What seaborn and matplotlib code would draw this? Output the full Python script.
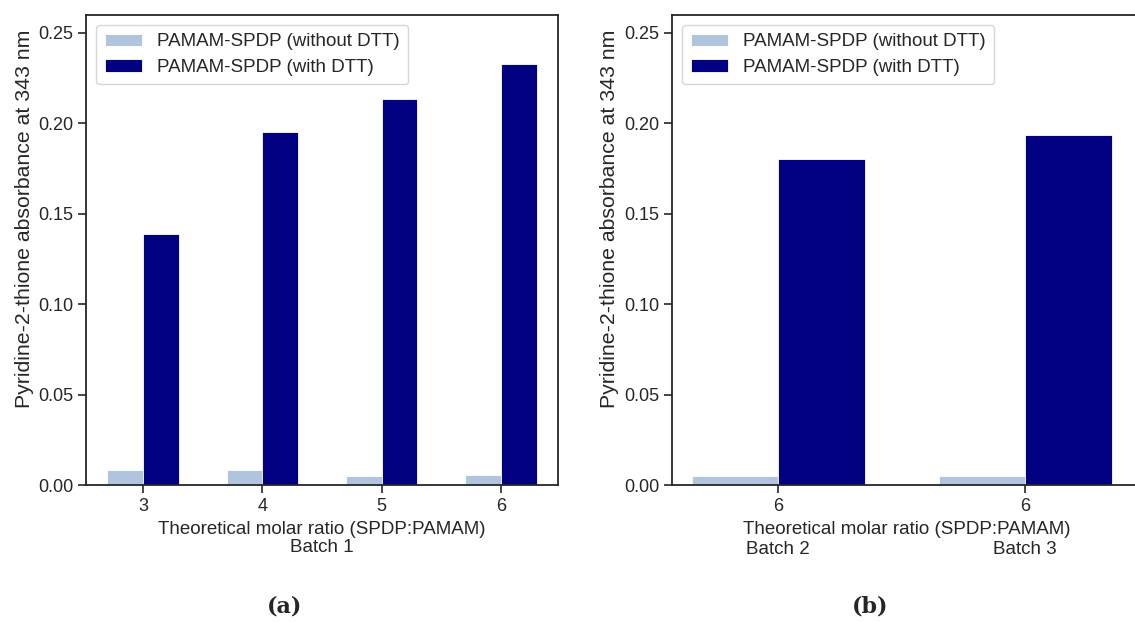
import pandas as pd
import seaborn as sns
import matplotlib.pyplot as plt
from matplotlib.transforms import blended_transform_factory

# Batch 1 verileri
ratios_b1 = ['3', '4', '5', '6']
no_dtt_b1 = [0.0083, 0.0088, 0.0052, 0.0056]
dtt_b1 = [0.139, 0.195, 0.2135, 0.233]

# Batch 2 ve 3 verileri
batches = ['Batch 2', 'Batch 3']
batch_ticks = ['6', '6']
no_dtt_b23 = [0.0052, 0.0052]
dtt_b23 = [0.1805, 0.1937]

series = ['PAMAM-SPDP (without DTT)', 'PAMAM-SPDP (with DTT)']
colors = ['#B0C4DE', '#000080']

sns.set_theme(style='ticks')
plt.rcParams['font.family'] = ['Liberation Sans', 'DejaVu Sans']

df1 = pd.DataFrame({'ratio': ratios_b1 * 2,
                    'abs': no_dtt_b1 + dtt_b1,
                    'kind': [series[0]] * 4 + [series[1]] * 4})
df2 = pd.DataFrame({'batch': batches * 2,
                    'abs': no_dtt_b23 + dtt_b23,
                    'kind': [series[0]] * 2 + [series[1]] * 2})

fig = plt.figure(figsize=(11.35, 6.22), dpi=100)
ax1 = fig.add_axes([86 / 1135, 0.2195, 472 / 1135, 0.7569])
ax2 = fig.add_axes([672 / 1135, 0.2195, 470 / 1135, 0.7569])

sns.barplot(data=df1, x='ratio', y='abs', hue='kind', palette=colors,
            width=0.6, saturation=1, ax=ax1, edgecolor='white', linewidth=0.6)
sns.barplot(data=df2, x='batch', y='abs', hue='kind', palette=colors,
            width=0.7, saturation=1, ax=ax2, edgecolor='white', linewidth=0.6)

ylabel = 'Pyridine-2-thione absorbance at 343 nm'
txt = '#262626'
for ax, lx in ((ax1, -52 / 472), (ax2, -53 / 470)):
    ax.set_ylim(0, 0.26)
    ax.set_yticks([0, 0.05, 0.10, 0.15, 0.20, 0.25])
    ax.set_yticklabels(['0.00', '0.05', '0.10', '0.15', '0.20', '0.25'])
    ax.set_ylabel(ylabel, fontsize=15.3, color=txt)
    ax.yaxis.set_label_coords(lx, 0.567)
    ax.tick_params(labelsize=13, colors=txt, length=6, width=1.2, pad=3)
    for sp in ax.spines.values():
        sp.set_color(txt)
        sp.set_linewidth(1.3)
    ax.legend(loc='upper left', fontsize=13.5, handlelength=2.0,
              handleheight=0.65, handletextpad=0.8, borderpad=0.45,
              labelspacing=0.45, borderaxespad=0.55, frameon=True)

ax1.set_xlim(-0.478, 3.478)
ax1.set_xlabel('Theoretical molar ratio (SPDP:PAMAM)\nBatch 1', fontsize=13.5,
               color=txt, labelpad=4, linespacing=1.15)

ax2.set_xlim(-0.43, 1.473)
ax2.set_xticks([0, 1])
ax2.set_xticklabels(batch_ticks)
ax2.set_xlabel('Theoretical molar ratio (SPDP:PAMAM)', fontsize=13.5,
               color=txt, labelpad=4)
tr = blended_transform_factory(ax2.transData, ax2.transAxes)
for i, b in enumerate(batches):
    ax2.text(i, -0.1365, b, transform=tr, ha='center', va='center',
             fontsize=13.5, color=txt)

fig.text(285 / 1135, 1 - 607 / 622, '(a)', ha='center', va='center',
         fontsize=16, fontweight='bold', family='DejaVu Serif')
fig.text(870 / 1135, 1 - 607 / 622, '(b)', ha='center', va='center',
         fontsize=16, fontweight='bold', family='DejaVu Serif')

fig.savefig('out.png', dpi=100)
